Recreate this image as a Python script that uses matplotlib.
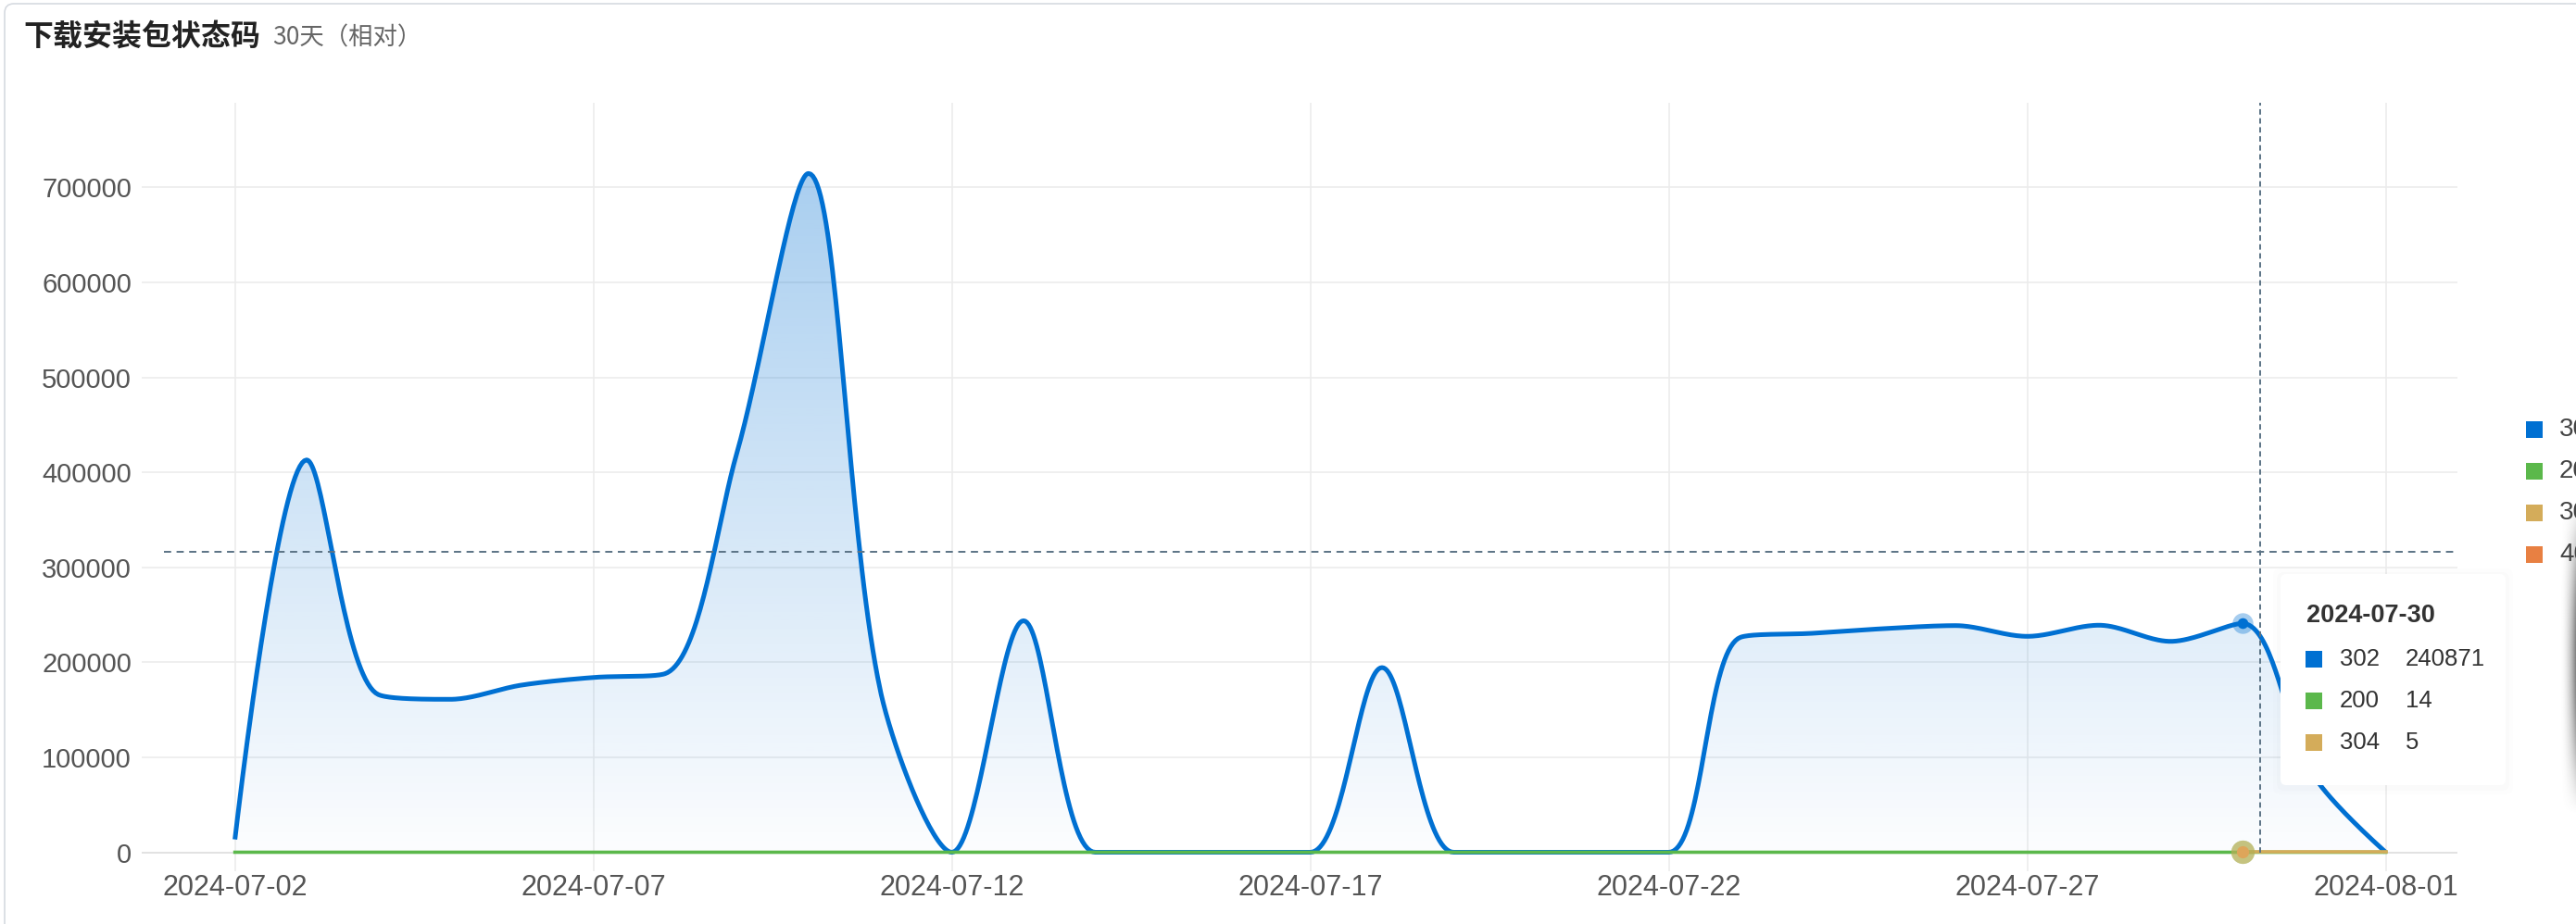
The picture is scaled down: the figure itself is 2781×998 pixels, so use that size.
import numpy as np
import pandas as pd
import matplotlib.pyplot as plt
from matplotlib.patches import FancyBboxPatch, Rectangle, Polygon
from matplotlib.transforms import IdentityTransform

plt.rcParams['font.family'] = ['Liberation Sans', 'Noto Sans CJK SC', 'DejaVu Sans']

# ---- data -------------------------------------------------------------
dates = pd.date_range('2024-07-02', '2024-08-01').strftime('%Y-%m-%d').tolist()
tick_dates = dates[::5]
series_names = ['302', '200', '304', '404']
series_colors = ['#0070d2', '#5bb84b', '#d4ac5a', '#e88042']

s302 = [13500, 413000, 166000, 161000, 176000, 184000, 188000, 420000, 714600, 171000,
        0, 243700, 0, 0, 0, 0, 194400, 0, 0, 0,
        0, 226300, 230500, 235400, 238600, 227300, 239000, 222000, 240871, 80000, 0]
s200 = [12, 25, 18, 15, 20, 17, 16, 22, 30, 19,
        8, 14, 10, 9, 11, 7, 13, 6, 5, 9,
        8, 16, 15, 17, 14, 13, 18, 12, 14, 9, 2]
s304 = [np.nan] * 28 + [5, 3, 1]
s404 = [np.nan] * 31
series_values = [s302, s200, s304, s404]

y_ticks = list(range(0, 800000, 100000))
y_max = 789000
x_range = (-1.3, 31.0)

# hover state shown in the screenshot
cursor_date = '2024-07-30'
cursor_x = 28.25
cursor_y = 316300

W, H = 2781, 998
fig = plt.figure(figsize=(W / 100, H / 100), dpi=100)
fig.patch.set_facecolor('white')


def fx(px):
    return px / W


def fy(py):
    return 1 - py / H


def px_box(x0, y0, x1, y1, **kw):
    p = FancyBboxPatch((x0, H - y1), x1 - x0, y1 - y0, transform=IdentityTransform(), **kw)
    fig.add_artist(p)
    return p


# card border
px_box(5, 4, W + 40, H + 40, boxstyle='round,pad=0,rounding_size=10',
       facecolor='none', edgecolor='#d6dae0', linewidth=1.2)

ax_l, ax_r, ax_t, ax_b = 153, 2653, 111, 920.5
ax = fig.add_axes([fx(ax_l), fy(ax_b), fx(ax_r) - fx(ax_l), fy(ax_t) - fy(ax_b)])
ax.set_xlim(*x_range)
ax.set_ylim(0, y_max)
for s in ax.spines.values():
    s.set_visible(False)
ax.set_facecolor('none')

sx = (ax_r - ax_l) / (x_range[1] - x_range[0])
sy = (ax_b - ax_t) / y_max


def echarts_smooth(x, y, smooth=0.32, steps=40):
    pts = np.column_stack([np.asarray(x, float) * sx, np.asarray(y, float) * sy])
    n = len(pts)
    out = [pts[0]]
    cp0 = pts[0].copy()
    for i in range(1, n):
        p, prev = pts[i], pts[i - 1]
        if i == n - 1:
            cp1 = p.copy()
            ncp0 = p.copy()
        else:
            nxt = pts[i + 1]
            v = nxt - prev
            l0 = np.hypot(*(p - prev))
            l1 = np.hypot(*(nxt - p))
            r = l1 / (l0 + l1)
            ncp0 = p + v * smooth * r
            ncp0 = np.minimum(ncp0, np.maximum(nxt, p))
            ncp0 = np.maximum(ncp0, np.minimum(nxt, p))
            v = ncp0 - p
            cp1 = p - v * l0 / l1
            cp1 = np.minimum(cp1, np.maximum(prev, p))
            cp1 = np.maximum(cp1, np.minimum(prev, p))
            v = p - cp1
            ncp0 = p + v * l1 / l0
        t = np.linspace(0, 1, steps)[1:, None]
        seg = (1 - t) ** 3 * prev + 3 * (1 - t) ** 2 * t * cp0 + 3 * (1 - t) * t ** 2 * cp1 + t ** 3 * p
        out.extend(seg)
        cp0 = ncp0
    out = np.array(out)
    return out[:, 0] / sx, out[:, 1] / sy


days = np.arange(len(dates))

# grid
grid_c = '#ececec'
ax.hlines(y_ticks[1:], x_range[0], x_range[1], color=grid_c, lw=1.2, zorder=0)
ax.hlines(0, x_range[0], x_range[1], color='#e2e2e2', lw=1.4, zorder=0, clip_on=False)
tick_pos = [dates.index(d) for d in tick_dates]
ax.vlines(tick_pos, -0.025, 1, transform=ax.get_xaxis_transform(), color=grid_c,
          lw=1.2, zorder=0, clip_on=False)

# 302 with gradient area
cx, cy = echarts_smooth(days, s302)
poly = Polygon(np.vstack([np.column_stack([cx, cy]), [[cx[-1], 0], [cx[0], 0]]]),
               closed=True, facecolor='none', edgecolor='none')
ax.add_patch(poly)
grad = np.zeros((256, 1, 4))
grad[:, 0, :3] = plt.matplotlib.colors.to_rgb(series_colors[0])
grad[:, 0, 3] = np.linspace(0.015, 0.34, 256)
im = ax.imshow(grad, extent=[cx[0], cx[-1], 0, max(s302)], origin='lower',
               aspect='auto', interpolation='bilinear', zorder=1)
im.set_clip_path(poly)
ax.plot(cx, cy, color=series_colors[0], lw=3.6, zorder=3, clip_on=False,
        solid_capstyle='butt', solid_joinstyle='round')

# small series
for vals, col in zip(series_values[1:], series_colors[1:]):
    v = np.asarray(vals, float)
    ok = ~np.isnan(v)
    if ok.sum() < 2:
        continue
    px, py = echarts_smooth(days[ok], v[ok])
    ax.plot(px, py, color=col, lw=2.6, zorder=4, clip_on=False)

ax.set_xlim(*x_range)
ax.set_ylim(0, y_max)

# crosshair
cross_c = '#5b7385'
ax.axvline(cursor_x, color=cross_c, lw=1.4, ls=(0, (3, 2)), zorder=5)
ax.hlines(cursor_y, -0.99, x_range[1], color=cross_c, lw=1.4, ls=(0, (4, 3)), zorder=5)

# emphasis points at hovered date
hi = dates.index(cursor_date)
ax.scatter([hi], [s302[hi]], s=260, color=series_colors[0], alpha=0.35, lw=0, zorder=6, clip_on=False)
ax.scatter([hi], [s302[hi]], s=70, color=series_colors[0], lw=0, zorder=7, clip_on=False)
ax.scatter([hi], [s200[hi]], s=330, color=series_colors[1], alpha=0.45, lw=0, zorder=6, clip_on=False)
ax.scatter([hi], [s304[hi]], s=330, color=series_colors[2], alpha=0.55, lw=0, zorder=6, clip_on=False)
ax.scatter([hi], [s304[hi]], s=90, color='#dea55a', lw=0, zorder=7, clip_on=False)

# ticks
ax.set_yticks(y_ticks)
ax.set_yticklabels([str(v) for v in y_ticks], fontsize=21, color='#555555')
ax.set_xticks(tick_pos)
ax.set_xticklabels(tick_dates, fontsize=22, color='#555555')
ax.tick_params(axis='y', length=0, pad=8)
ax.tick_params(axis='x', length=0, pad=17)

# title
fig.text(fx(25), fy(40), '下载安装包状态码', fontsize=23, fontweight='bold',
         family=['Noto Sans CJK SC', 'DejaVu Sans'], color='#222222', va='center')
fig.text(fx(294), fy(41), '30天（相对）', fontsize=19,
         family=['Noto Sans CJK SC', 'DejaVu Sans'], color='#666666', va='center')

# legend (clipped at right edge)
leg_y = [464, 509, 554, 599]
for name, col, y in zip(series_names, series_colors, leg_y):
    fig.add_artist(Rectangle((2727, H - y - 9), 18, 18, transform=IdentityTransform(),
                             facecolor=col, edgecolor='none'))
    fig.text(fx(2763), fy(y), name, fontsize=20, color='#444444', va='center')

# tooltip
for k, a in zip([8, 4], [0.008, 0.012]):
    px_box(2462 - k, 620 - k + 2, 2705 + k, 848 + k + 2, boxstyle='round,pad=0,rounding_size=8',
           facecolor='#000000', edgecolor='none', alpha=a)
px_box(2462, 620, 2705, 848, boxstyle='round,pad=0,rounding_size=6',
       facecolor='white', edgecolor='none')
fig.text(fx(2490), fy(665), cursor_date, fontsize=19.5, fontweight='bold', color='#333333', va='center')
row_y = [712, 757, 802]
for name, col, vals, y in zip(series_names[:3], series_colors[:3], series_values[:3], row_y):
    fig.add_artist(Rectangle((2489, H - y - 9), 18, 18, transform=IdentityTransform(),
                             facecolor=col, edgecolor='none'))
    fig.text(fx(2526), fy(y), name, fontsize=18.5, color='#333333', va='center')
    fig.text(fx(2597), fy(y), f'{vals[hi]:g}', fontsize=18.5, color='#333333', va='center')

# shade at the right edge of the screenshot
ax_sh = fig.add_axes([fx(2763), fy(880), fx(18), fy(540) - fy(880)])
hx = np.linspace(0, 1, 18) ** 2
vy = np.sin(np.linspace(0, np.pi, 200)) ** 1.2
shade = np.zeros((200, 18, 4))
shade[..., :3] = 0.4
shade[..., 3] = 0.8 * vy[:, None] * hx[None, :]
ax_sh.imshow(shade, aspect='auto', interpolation='bilinear')
ax_sh.axis('off')

fig.savefig('out.png', dpi=100, facecolor='white')
